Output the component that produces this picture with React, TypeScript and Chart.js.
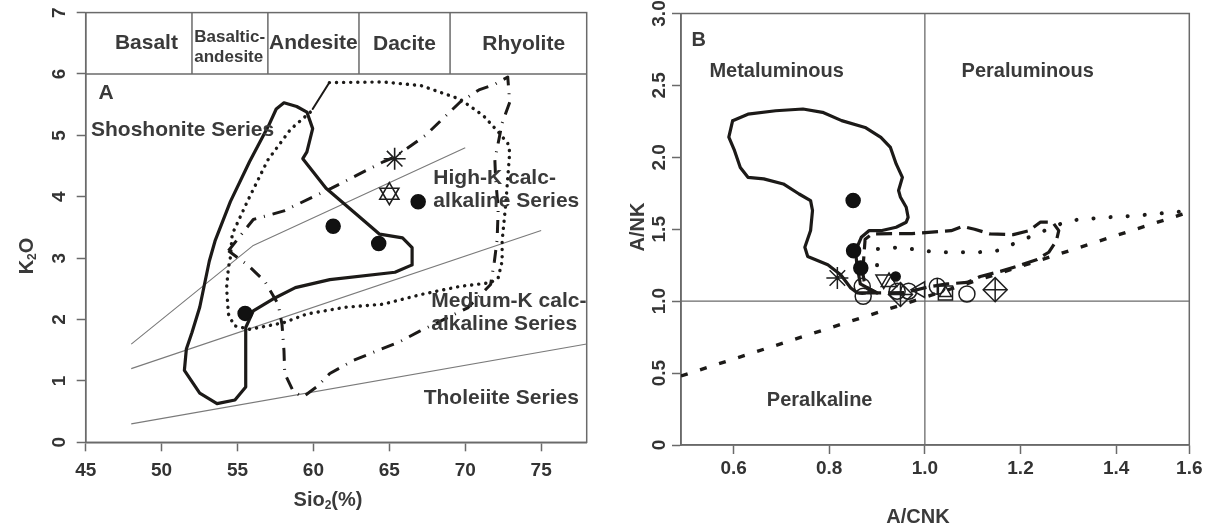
import React, { useEffect, useRef } from "react";
import { Chart, registerables } from "chart.js";

Chart.register(...registerables);

const FONT = '"Liberation Sans", Arial, Helvetica, sans-serif';
const INK = "#1c1a18";
const TEXT = "#3a3a3a";
const AXIS = "#6a6a6a";

// ---------------- Panel A : K2O vs SiO2 ----------------
const siO2Ticks = [45, 50, 55, 60, 65, 70, 75];
const k2oTicks = [0, 1, 2, 3, 4, 5, 6, 7];
const rockBoundaries = [52, 57, 63, 69];

const shoshoniteLineX = [48, 56, 70];
const shoshoniteLineY = [1.6, 3.2, 4.8];
const highKLineX = [48, 75];
const highKLineY = [1.2, 3.45];
const tholeiiteLineX = [48, 78];
const tholeiiteLineY = [0.3, 1.6];

const solidFieldX = [58.06, 58.9, 59.57, 59.95, 59.57, 59.3, 60.83, 62.85, 64.36, 65.87, 66.5, 66.5, 65.37, 61.08, 58.81, 57.3, 56.04, 55.54, 55.54, 54.83, 53.65, 52.51, 51.5, 51.63, 52.0, 52.51, 53.14, 53.52, 54.53, 55.79, 57.05, 57.55, 58.06];
const solidFieldY = [5.53, 5.47, 5.38, 5.11, 4.73, 4.62, 4.14, 3.71, 3.39, 3.33, 3.17, 2.89, 2.77, 2.65, 2.52, 2.33, 2.14, 1.87, 0.9, 0.69, 0.63, 0.8, 1.17, 1.52, 1.79, 2.2, 2.95, 3.28, 3.92, 4.57, 5.16, 5.43, 5.53];
const solidStubX = [59.95, 61.05];
const solidStubY = [5.43, 5.86];

const dottedFieldX = [61.05, 64.6, 67.1, 69.65, 71.2, 72.2, 72.8, 72.93, 72.68, 72.43, 72.43, 72.17, 71.67, 69.65, 67.13, 64.6, 62.1, 59.57, 58.06, 57.05, 55.79, 54.78, 54.4, 54.28, 54.4, 54.53, 54.65, 55.7, 57.0, 58.5, 59.8];
const dottedFieldY = [5.86, 5.87, 5.81, 5.59, 5.32, 5.05, 4.87, 4.73, 3.92, 3.28, 2.95, 2.68, 2.6, 2.54, 2.41, 2.25, 2.2, 2.09, 1.95, 1.9, 1.84, 1.9, 2.09, 2.52, 2.84, 3.01, 3.39, 3.95, 4.6, 5.1, 5.38];

const dashDotFieldX = [54.4, 56.04, 58.06, 60.33, 61.2, 64.6, 65.37, 67.38, 69.65, 70.9, 71.92, 72.8, 72.93, 72.43, 71.95, 72.0, 72.17, 72.1, 71.92, 71.67, 70.16, 67.0, 65.62, 63.98, 62.6, 61.08, 60.2, 59.32, 58.69, 58.11, 58.06, 57.93, 57.68, 56.8, 55.66, 54.4];
const dashDotFieldY = [3.12, 3.63, 3.77, 4.04, 4.14, 4.57, 4.65, 5.0, 5.54, 5.74, 5.83, 5.95, 5.54, 5.2, 4.6, 4.3, 3.8, 3.3, 2.95, 2.57, 2.19, 1.81, 1.63, 1.47, 1.33, 1.12, 0.9, 0.74, 0.82, 1.12, 1.49, 1.92, 2.25, 2.62, 2.89, 3.12];

const filledCircleAX = [55.5, 61.3, 64.3, 66.9];
const filledCircleAY = [2.1, 3.52, 3.24, 3.92];
const starAX = [65.35];
const starAY = [4.62];
const triangleAX = [65.0];
const triangleAY = [4.05];

// ---------------- Panel B : A/NK vs A/CNK ----------------
const acnkTicks = [0.6, 0.8, 1.0, 1.2, 1.4, 1.553];
const acnkTickLabels = ["0.6", "0.8", "1.0", "1.2", "1.4", "1.6"];
const ankTicks = [0, 0.5, 1.0, 1.5, 2.0, 2.5, 3.0];
const ankTickLabels = ["0", "0.5", "1.0", "1.5", "2.0", "2.5", "3.0"];

const blobX = [0.598, 0.63, 0.688, 0.745, 0.786, 0.826, 0.875, 0.908, 0.928, 0.94, 0.953, 0.945, 0.949, 0.961, 0.965, 0.961, 0.94, 0.908, 0.883, 0.867, 0.855, 0.858, 0.865, 0.9, 0.859, 0.845, 0.824, 0.797, 0.755, 0.749, 0.761, 0.765, 0.761, 0.737, 0.704, 0.663, 0.63, 0.614, 0.602, 0.59, 0.598];
const blobY = [2.255, 2.3, 2.324, 2.336, 2.313, 2.255, 2.208, 2.139, 2.069, 1.954, 1.861, 1.769, 1.722, 1.653, 1.583, 1.549, 1.514, 1.49, 1.49, 1.444, 1.35, 1.25, 1.12, 1.057, 1.057, 1.092, 1.184, 1.253, 1.31, 1.375, 1.491, 1.63, 1.699, 1.745, 1.815, 1.85, 1.861, 1.93, 2.046, 2.14, 2.255];

const dashedFieldX = [0.87, 0.875, 0.89, 0.973, 1.055, 1.079, 1.104, 1.136, 1.185, 1.218, 1.242, 1.267, 1.28, 1.275, 1.259, 1.235, 1.19, 1.158, 1.116, 1.088, 1.047, 1.008, 0.96, 0.9, 0.875, 0.87];
const dashedFieldY = [1.2, 1.43, 1.468, 1.47, 1.49, 1.52, 1.5, 1.468, 1.463, 1.49, 1.55, 1.55, 1.49, 1.42, 1.34, 1.29, 1.24, 1.207, 1.172, 1.13, 1.12, 1.1, 1.06, 1.057, 1.1, 1.2];

const sparseDotX = [0.9, 0.9, 0.953, 0.989, 1.03, 1.071, 1.112, 1.153, 1.193, 1.3, 1.34, 1.381, 1.42, 1.46, 1.544];
const sparseDotY = [1.25, 1.363, 1.375, 1.352, 1.34, 1.34, 1.34, 1.352, 1.41, 1.56, 1.572, 1.583, 1.59, 1.6, 1.625];

const diagonalX = [0.49, 1.553];
const diagonalY = [0.48, 1.62];

const filledCircleBX = [0.85, 0.851, 0.866];
const filledCircleBY = [1.7, 1.35, 1.23];
const smallCircleBX = [0.939];
const smallCircleBY = [1.172];
const starBX = [0.817];
const starBY = [1.161];
const openCircleBX = [0.869, 0.871, 0.942, 0.966, 1.088];
const openCircleBY = [1.103, 1.034, 1.069, 1.069, 1.05];
const barCircleBX = [1.026];
const barCircleBY = [1.103];
const downTriBX = [0.914];
const downTriBY = [1.15];
const upTriBX = [0.925];
const upTriBY = [1.134];
const leftTriBX = [0.99];
const leftTriBY = [1.08];
const squareTriBX = [1.043];
const squareTriBY = [1.057];
const diamondCrossBX = [0.949, 1.147];
const diamondCrossBY = [1.046, 1.08];

// ---------------- helpers ----------------
const zip = (xs: number[], ys: number[]) => xs.map((x, i) => ({ x, y: ys[i] }));

function lineDs(xs: number[], ys: number[], o: any = {}) {
  return {
    type: "scatter",
    data: zip(xs, ys),
    showLine: true,
    pointRadius: 0,
    pointHoverRadius: 0,
    borderColor: o.color ?? INK,
    borderWidth: o.width ?? 3,
    borderDash: o.dash ?? [],
    borderCapStyle: o.cap ?? "round",
    borderJoinStyle: "round",
    fill: false,
    tension: 0,
  };
}

function pointDs(xs: number[], ys: number[], o: any = {}) {
  return {
    type: "scatter",
    data: zip(xs, ys),
    showLine: false,
    pointStyle: o.style ?? "circle",
    pointRadius: o.r ?? 7,
    pointHoverRadius: o.r ?? 7,
    pointRotation: o.rot ?? 0,
    pointBackgroundColor: o.fill ?? "rgba(0,0,0,0)",
    pointBorderColor: o.stroke ?? "#1e1e1e",
    pointBorderWidth: o.bw ?? 1.5,
  };
}

const notesPlugin = {
  id: "notes",
  afterDatasetsDraw(chart: any, _a: any, opts: any) {
    const { ctx, scales } = chart;
    ctx.save();
    for (const n of opts.items || []) {
      ctx.font = `bold ${n.size ?? opts.size ?? 20}px ${FONT}`;
      ctx.fillStyle = TEXT;
      ctx.textAlign = n.align ?? "center";
      ctx.textBaseline = "middle";
      ctx.fillText(n.text, scales.x.getPixelForValue(n.x), scales.y.getPixelForValue(n.y));
    }
    ctx.restore();
  },
};

const titlesPlugin = {
  id: "titles",
  afterDraw(chart: any, _a: any, opts: any) {
    const ctx = chart.ctx;
    for (const t of opts.items || []) {
      const size = t.size ?? 20;
      ctx.save();
      ctx.translate(t.px, t.py);
      if (t.rotate) ctx.rotate(-Math.PI / 2);
      ctx.fillStyle = TEXT;
      ctx.textBaseline = "middle";
      ctx.textAlign = "left";
      const widths = t.parts.map((p: any) => {
        ctx.font = `bold ${p.sub ? Math.round(size * 0.62) : size}px ${FONT}`;
        return ctx.measureText(p.text).width;
      });
      let x = -widths.reduce((a: number, b: number) => a + b, 0) / 2;
      t.parts.forEach((p: any, i: number) => {
        ctx.font = `bold ${p.sub ? Math.round(size * 0.62) : size}px ${FONT}`;
        ctx.fillText(p.text, x, p.sub ? size * 0.3 : 0);
        x += widths[i];
      });
      ctx.restore();
    }
  },
};

const framePlugin = {
  id: "frame",
  beforeDatasetsDraw(chart: any) {
    const { ctx, chartArea: a } = chart;
    ctx.save();
    ctx.strokeStyle = AXIS;
    ctx.lineWidth = 1.5;
    ctx.strokeRect(a.left, a.top, a.right - a.left, a.bottom - a.top);
    ctx.restore();
  },
};

function axisOpts(o: any) {
  return {
    type: "linear",
    min: o.min,
    max: o.max,
    afterBuildTicks: (s: any) => {
      s.ticks = o.ticks.map((v: number) => ({ value: v }));
    },
    afterFit: (s: any) => {
      if (o.width !== undefined) s.width = o.width;
      if (o.height !== undefined) s.height = o.height;
      s.paddingTop = 0;
      s.paddingBottom = 0;
      s.paddingLeft = 0;
      s.paddingRight = 0;
    },
    ticks: {
      autoSkip: false,
      color: "#333333",
      font: { family: FONT, size: 19, weight: "bold" },
      padding: o.pad,
      minRotation: o.rot ?? 0,
      maxRotation: o.rot ?? 0,
      crossAlign: o.rot ? "center" : "near",
      callback: (_v: any, i: number) => o.labels[i],
    },
    grid: {
      display: true,
      drawOnChartArea: false,
      drawTicks: true,
      tickLength: 9,
      tickColor: AXIS,
      tickWidth: 1.5,
      color: AXIS,
    },
    border: { display: true, color: AXIS, width: 1.5 },
  };
}

function baseOptions(padding: any, scales: any, plugins: any) {
  return {
    responsive: false,
    maintainAspectRatio: false,
    devicePixelRatio: 1,
    animation: false,
    events: [],
    layout: { padding },
    scales,
    plugins: {
      legend: { display: false },
      tooltip: { enabled: false },
      ...plugins,
    },
  };
}

function makeConfigA(): any {
  const boxDs = [
    lineDs([45, 78], [6, 6], { color: AXIS, width: 1.5, cap: "butt" }),
    ...rockBoundaries.map((b) => lineDs([b, b], [6, 7], { color: AXIS, width: 1.5, cap: "butt" })),
  ];
  const datasets = [
    pointDs(starAX, starAY, { style: "star", r: 11, bw: 1.6 }),
    pointDs(triangleAX, triangleAY, { style: "triangle", r: 11, bw: 1.6 }),
    pointDs(triangleAX, triangleAY, { style: "triangle", r: 11, rot: 180, bw: 1.6 }),
    pointDs(filledCircleAX, filledCircleAY, { r: 7, fill: "#111111", stroke: "#111111" }),
    lineDs(solidFieldX, solidFieldY, { width: 3.2 }),
    lineDs(solidStubX, solidStubY, { width: 2 }),
    lineDs(dottedFieldX, dottedFieldY, { width: 3.4, dash: [0.1, 7] }),
    lineDs(dashDotFieldX, dashDotFieldY, { width: 3, dash: [13, 8, 1, 8], cap: "butt" }),
    lineDs(shoshoniteLineX, shoshoniteLineY, { color: "#7a7a7a", width: 1.1, cap: "butt" }),
    lineDs(highKLineX, highKLineY, { color: "#7a7a7a", width: 1.1, cap: "butt" }),
    lineDs(tholeiiteLineX, tholeiiteLineY, { color: "#7a7a7a", width: 1.1, cap: "butt" }),
    ...boxDs,
  ];
  const notes = [
    { text: "Basalt", x: 49.0, y: 6.5 },
    { text: "Basaltic-", x: 52.15, y: 6.6, align: "left", size: 17 },
    { text: "andesite", x: 52.15, y: 6.27, align: "left", size: 17 },
    { text: "Andesite", x: 60.0, y: 6.5 },
    { text: "Dacite", x: 66.0, y: 6.48 },
    { text: "Rhyolite", x: 73.85, y: 6.48 },
    { text: "A", x: 45.85, y: 5.68, align: "left" },
    { text: "Shoshonite Series", x: 45.35, y: 5.08, align: "left" },
    { text: "High-K calc-", x: 67.9, y: 4.3, align: "left" },
    { text: "alkaline Series", x: 67.9, y: 3.92, align: "left" },
    { text: "Medium-K calc-", x: 67.76, y: 2.3, align: "left" },
    { text: "alkaline Series", x: 67.76, y: 1.92, align: "left" },
    { text: "Tholeiite Series", x: 67.26, y: 0.72, align: "left" },
  ];
  const titles = [
    { px: 27, py: 256, rotate: true, parts: [{ text: "K" }, { text: "2", sub: true }, { text: "O" }] },
    { px: 328, py: 500, parts: [{ text: "Sio" }, { text: "2", sub: true }, { text: "(%)" }] },
  ];
  return {
    type: "scatter",
    data: { datasets },
    options: baseOptions(
      { top: 9.3, right: 13.3, left: 0, bottom: 0 },
      {
        x: axisOpts({ min: 45, max: 78, ticks: siO2Ticks, labels: siO2Ticks.map(String), height: 89.7, pad: 8 }),
        y: axisOpts({ min: 0, max: 7, ticks: k2oTicks, labels: k2oTicks.map(String), width: 85.7, pad: 12, rot: 90 }),
      },
      { notes: { items: notes, size: 21 }, titles: { items: titles } }
    ),
    plugins: [framePlugin, notesPlugin, titlesPlugin],
  };
}

function makeConfigB(): any {
  const datasets = [
    pointDs(starBX, starBY, { style: "star", r: 11, bw: 1.5 }),
    pointDs(smallCircleBX, smallCircleBY, { r: 4.5, fill: "#111111", stroke: "#111111" }),
    pointDs(filledCircleBX, filledCircleBY, { r: 7, fill: "#111111", stroke: "#111111" }),
    pointDs(openCircleBX, openCircleBY, { r: 8, bw: 1.5 }),
    pointDs(barCircleBX, barCircleBY, { r: 8, bw: 1.5 }),
    pointDs(barCircleBX, barCircleBY, { style: "line", r: 8, rot: 90, bw: 1.5 }),
    pointDs(downTriBX, downTriBY, { style: "triangle", r: 9, rot: 180, bw: 1.5 }),
    pointDs(upTriBX, upTriBY, { style: "triangle", r: 9, bw: 1.5 }),
    pointDs(leftTriBX, leftTriBY, { style: "triangle", r: 9, rot: 270, bw: 1.5 }),
    pointDs(squareTriBX, squareTriBY, { style: "rect", r: 10, bw: 1.5 }),
    pointDs(squareTriBX, squareTriBY, { style: "triangle", r: 7, bw: 1.5 }),
    pointDs(diamondCrossBX, diamondCrossBY, { style: "rectRot", r: 12, bw: 1.5 }),
    pointDs(diamondCrossBX, diamondCrossBY, { style: "cross", r: 12, bw: 1.5 }),
    lineDs(blobX, blobY, { width: 3.2 }),
    lineDs(dashedFieldX, dashedFieldY, { width: 3.2, dash: [16, 7], cap: "butt" }),
    lineDs(sparseDotX, sparseDotY, { width: 4, dash: [0.1, 17] }),
    lineDs(diagonalX, diagonalY, { width: 3.4, dash: [7, 13], cap: "butt" }),
    lineDs([1, 1], [0, 3], { color: AXIS, width: 1.3, cap: "butt" }),
    lineDs([0.49, 1.553], [1, 1], { color: AXIS, width: 1.3, cap: "butt" }),
  ];
  const notes = [
    { text: "B", x: 0.512, y: 2.81, align: "left" },
    { text: "Metaluminous", x: 0.69, y: 2.6 },
    { text: "Peraluminous", x: 1.215, y: 2.6 },
    { text: "Peralkaline", x: 0.78, y: 0.307 },
  ];
  const titles = [
    { px: 38, py: 227, rotate: true, parts: [{ text: "A/NK" }] },
    { px: 318, py: 517, parts: [{ text: "A/CNK" }] },
  ];
  return {
    type: "scatter",
    data: { datasets },
    options: baseOptions(
      { top: 10, right: 21.7, left: 0, bottom: 0 },
      {
        x: axisOpts({ min: 0.49, max: 1.553, ticks: acnkTicks, labels: acnkTickLabels, height: 87, pad: 3 }),
        y: axisOpts({ min: 0, max: 3, ticks: ankTicks, labels: ankTickLabels, width: 81, pad: -1, rot: 90 }),
      },
      { notes: { items: notes, size: 20 }, titles: { items: titles } }
    ),
    plugins: [framePlugin, notesPlugin, titlesPlugin],
  };
}

function ChartCanvas({ make, left, width, height }: { make: () => any; left: number; width: number; height: number }) {
  const ref = useRef<HTMLCanvasElement>(null);
  useEffect(() => {
    const chart = new Chart(ref.current as HTMLCanvasElement, make());
    return () => chart.destroy();
  }, [make]);
  return (
    <canvas
      ref={ref}
      width={width}
      height={height}
      style={{ position: "absolute", left, top: 0, width, height, display: "block" }}
    />
  );
}

export default function App() {
  return (
    <div style={{ position: "fixed", left: 0, top: 0, width: 1211, height: 532, background: "#ffffff" }}>
      <ChartCanvas make={makeConfigA} left={0} width={600} height={532} />
      <ChartCanvas make={makeConfigB} left={600} width={611} height={532} />
    </div>
  );
}
